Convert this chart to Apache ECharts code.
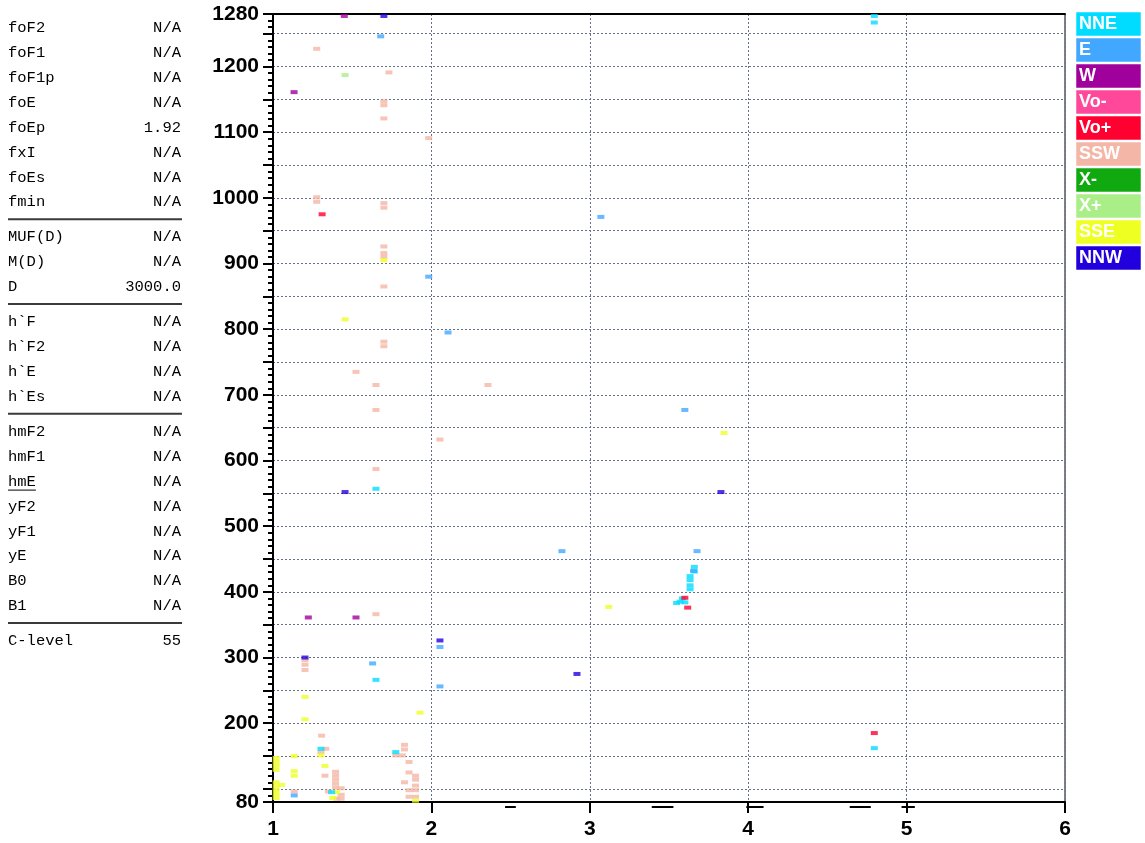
<!DOCTYPE html>
<html>
<head>
<meta charset="utf-8">
<script src="https://cdn.jsdelivr.net/npm/echarts@6/dist/echarts.min.js"></script>
<style>
html, body { margin: 0; padding: 0; background: #fff; }
#chart { width: 1145px; height: 843px; }
</style>
</head>
<body>
<div id="chart"></div>
<script>
// Ionogram echoes: [frequency MHz, virtual height km] per arrival direction / polarization
const seriesNames  = ['NNE', 'E', 'W', 'Vo-', 'Vo+', 'SSW', 'X-', 'X+', 'SSE', 'NNW'];
const seriesColors = ['#00dcff', '#42a8ff', '#a0009c', '#ff4899', '#ff0030', '#f4b6a6', '#10aa10', '#aaee88', '#eeff22', '#2200dd'];

const echoNNE = [[1.303,161],[1.37,95],[1.775,156],[1.65,266],[1.65,557],[3.66,438],[3.66,431],
  [3.633,424],[3.633,418],[3.633,410],[3.633,404],[3.585,390],[3.57,385],[3.548,383],[3.60,384],
  [4.796,1277],[4.796,1267],[4.796,162]];
const echoE = [[1.134,90],[1.629,291],[2.054,316],[2.054,256],[1.68,1246],[1.983,880],[2.105,795],
  [3.07,971],[3.60,677],[2.824,462],[3.677,462],[3.655,432]];
const echoW = [[1.45,1277],[1.133,1161],[1.223,361],[1.524,361]];
const echoVoMinus = [];
const echoVoPlus = [[1.31,975],[3.60,391],[3.618,376],[4.796,185]];
const echoSSW = [[1.276,1227],[1.732,1191],[1.70,1147],[1.70,1141],[1.70,1121],[1.983,1091],
  [1.276,1001],[1.276,994],[1.70,992],[1.70,985],[1.70,926],[1.70,916],[1.70,910],[1.70,865],
  [1.70,781],[1.70,774],[1.524,735],[1.65,715],[2.357,715],[1.65,677],[2.054,632],[1.65,587],
  [1.65,366],[1.202,296],[1.202,289],[1.202,281],[1.307,181],
  [1.134,96],[1.303,156],[1.333,161],[1.328,120],[1.395,126],[1.395,120],[1.395,114],[1.395,108],
  [1.395,102],[1.35,96],[1.43,101],[1.43,91],[1.43,85],[1.402,85],
  [1.775,151],[1.83,167],[1.83,160],[1.816,151],[1.859,141],[1.859,125],[1.90,120],[1.83,110],
  [1.90,114],[1.90,105],[1.859,98],[1.859,88],[1.90,98],[1.90,88]];
const echoXMinus = [];
const echoXPlus = [[1.455,1187]];
const echoSSE = [[1.02,147],[1.02,141],[1.02,135],[1.02,129],[1.02,110],[1.02,104],[1.02,98],
  [1.02,92],[1.02,86],[1.055,106],[1.134,150],[1.134,127],[1.134,120],[1.303,151],[1.328,135],
  [1.402,95],[1.377,86],[1.90,82],[1.202,240],[1.202,206],[1.928,216],[1.455,815],[1.70,905],
  [3.12,377],[3.847,642]];
const echoNNW = [[1.70,1277],[1.455,552],[3.828,552],[2.054,326],[1.202,300],[2.919,275]];

const echoData = {
  'NNE': echoNNE, 'E': echoE, 'W': echoW, 'Vo-': echoVoMinus, 'Vo+': echoVoPlus,
  'SSW': echoSSW, 'X-': echoXMinus, 'X+': echoXPlus, 'SSE': echoSSE, 'NNW': echoNNW
};
// drawing order (later on top)
const drawOrder = ['SSW', 'SSE', 'X+', 'X-', 'NNE', 'E', 'W', 'Vo-', 'Vo+', 'NNW'];

// frequency windows marked under the axis: [start MHz, end MHz]
const bandMarks = [[2.465,2.533],[3.391,3.528],[3.988,4.097],[4.641,4.774],[4.968,5.052]];

// axis ticks
const heightMin = 80, heightMax = 1280;
const heightLabels = [80,200,300,400,500,600,700,800,900,1000,1100,1200,1280];
const heightMajorTicks = [80,100,150,200,250,300,350,400,450,500,550,600,650,700,750,800,850,900,950,1000,1050,1100,1150,1200,1250,1280];
const heightMinorTicks = [];
for (let h = heightMin; h <= heightMax; h += 10) heightMinorTicks.push(h);

// scaled parameter table
const paramLabels = [
  ['foF2','foF1','foF1p','foE','foEp','fxI','foEs','fmin'],
  ['MUF(D)','M(D)','D'],
  ['h`F','h`F2','h`E','h`Es'],
  ['hmF2','hmF1','hmE','yF2','yF1','yE','B0','B1'],
  ['C-level']
];
const paramValues = [
  ['N/A','N/A','N/A','N/A','1.92','N/A','N/A','N/A'],
  ['N/A','N/A','3000.0'],
  ['N/A','N/A','N/A','N/A'],
  ['N/A','N/A','N/A','N/A','N/A','N/A','N/A','N/A'],
  ['55']
];
const underlinedParams = ['hmE'];

const graphics = [];
(function buildTable() {
  const font = '15.5px "Liberation Mono", "DejaVu Sans Mono", monospace';
  let y = 28;
  paramLabels.forEach((group, gi) => {
    group.forEach((name, ri) => {
      graphics.push({ type: 'text', x: 8, y: y,
        style: { text: name, font: font, fill: '#000', verticalAlign: 'middle', align: 'left' } });
      graphics.push({ type: 'text', x: 181, y: y,
        style: { text: paramValues[gi][ri], font: font, fill: '#000', verticalAlign: 'middle', align: 'right' } });
      if (underlinedParams.indexOf(name) >= 0) {
        graphics.push({ type: 'line', shape: { x1: 8, y1: y + 8.5, x2: 8 + name.length * 9.3, y2: y + 8.5 },
          style: { stroke: '#000', lineWidth: 1 } });
      }
      if (ri < group.length - 1) y += 24.9;
    });
    if (gi < paramLabels.length - 1) {
      const ly = y + 17;
      graphics.push({ type: 'line', shape: { x1: 8, y1: ly, x2: 182, y2: ly },
        style: { stroke: '#3a3a3a', lineWidth: 2 } });
      y = ly + 18;
    }
  });
})();

(function buildLegend() {
  seriesNames.forEach((name, i) => {
    const y = 12 + i * 26;
    graphics.push({ type: 'rect', shape: { x: 1076, y: y, width: 65, height: 24 },
      style: { fill: seriesColors[i], stroke: 'rgba(255,255,255,0.5)', lineWidth: 1 } });
    graphics.push({ type: 'text', x: 1079, y: y + 12,
      style: { text: name, font: 'bold 18px "Liberation Sans", Arial, sans-serif', fill: '#fff', verticalAlign: 'middle', align: 'left' } });
  });
})();

const gridLine = { show: true, lineStyle: { color: '#66708a', width: 1, type: [2, 2] } };
const plainNumber = v => String(v);

const series = drawOrder.map(name => ({
  name: name,
  type: 'scatter',
  symbol: 'rect',
  symbolSize: [7, 4],
  itemStyle: { color: seriesColors[seriesNames.indexOf(name)] },
  data: echoData[name],
  animation: false,
  z: 3
}));

series.push({
  name: 'bands',
  type: 'custom',
  clip: false,
  silent: true,
  animation: false,
  data: bandMarks,
  renderItem: function (params, api) {
    const s = api.coord([api.value(0), heightMin]);
    const e = api.coord([api.value(1), heightMin]);
    return { type: 'line', shape: { x1: s[0], y1: s[1] + 5, x2: e[0], y2: e[1] + 5 },
      style: { stroke: '#000', lineWidth: 2 } };
  },
  z: 5
});

const chart = echarts.init(document.getElementById('chart'), null, { renderer: 'canvas' });
chart.setOption({
  backgroundColor: '#fff',
  animation: false,
  grid: { left: 273, right: 80, top: 14, bottom: 41, show: true, borderColor: '#000', borderWidth: 1 },
  xAxis: [{
    type: 'value', min: 1, max: 6, interval: 1,
    axisLine: { show: true, lineStyle: { color: '#000', width: 2 } },
    axisTick: { show: true, inside: false, length: 11, lineStyle: { color: '#000', width: 2 } },
    axisLabel: { margin: 17, color: '#000', fontSize: 21, fontWeight: 'bold', fontFamily: '"Liberation Sans", Arial, sans-serif', formatter: plainNumber },
    splitLine: gridLine
  }, {
    type: 'value', min: 1, max: 6, position: 'top',
    axisLine: { show: true, lineStyle: { color: '#000', width: 2 } },
    axisTick: { show: false }, axisLabel: { show: false }, splitLine: { show: false }
  }],
  yAxis: [{
    type: 'value', min: heightMin, max: heightMax,
    axisLine: { show: true, lineStyle: { color: '#000', width: 2 } },
    axisTick: { show: true, length: 10, customValues: heightMajorTicks, lineStyle: { color: '#000', width: 2 } },
    axisLabel: { customValues: heightLabels, margin: 14, color: '#000', fontSize: 21, fontWeight: 'bold', fontFamily: '"Liberation Sans", Arial, sans-serif', formatter: plainNumber },
    splitLine: gridLine
  }, {
    type: 'value', min: heightMin, max: heightMax, position: 'left',
    axisLine: { show: false },
    axisTick: { show: true, length: 5, customValues: heightMinorTicks, lineStyle: { color: '#000', width: 2 } },
    axisLabel: { show: false }, splitLine: { show: false }
  }],
  series: series,
  graphic: graphics
});
</script>
</body>
</html>
